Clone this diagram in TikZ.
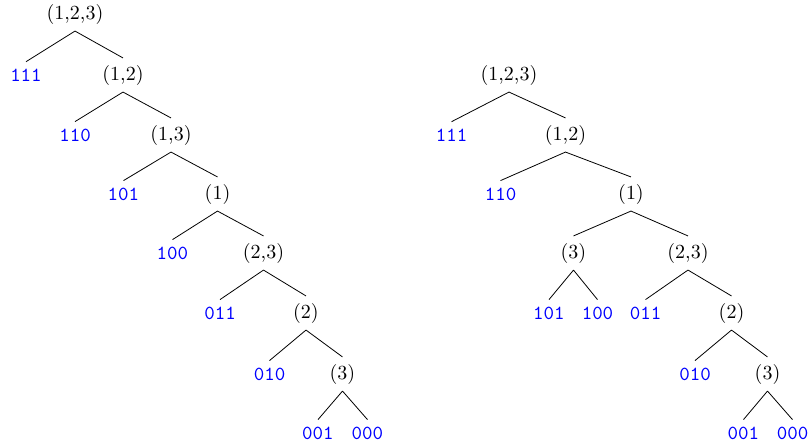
\documentclass[tikz,border=0pt]{standalone}
\usepackage{tikz}
\usepackage{xcolor}

\begin{document}
\begin{tikzpicture}[x=0.5pt,y=-0.5pt,leaf/.style={text=blue,font=\ttfamily}]
\useasboundingbox (0,0) rectangle (811,445);
% left tree
\node (L0) at (75,14) {(1,2,3)};
\node[leaf] (L111) at (26,75) {111};
\node (L12) at (123,75) {(1,2)};
\node[leaf] (L110) at (75,135) {110};
\node (L13) at (171,135) {(1,3)};
\node[leaf] (L101) at (123.5,194) {101};
\node (L1) at (217.5,194) {(1)};
\node[leaf] (L100) at (172.5,253) {100};
\node (L23) at (263.5,253) {(2,3)};
\node[leaf] (L011) at (220,313) {011};
\node (L2) at (306,313) {(2)};
\node[leaf] (L010) at (269.5,374) {010};
\node (L3) at (342.5,374) {(3)};
\node[leaf] (L001) at (318,433) {001};
\node[leaf] (L000) at (367.5,433) {000};
\draw (L0.south) -- (L111.north) (L0.south) -- (L12.north);
\draw (L12.south) -- (L110.north) (L12.south) -- (L13.north);
\draw (L13.south) -- (L101.north) (L13.south) -- (L1.north);
\draw (L1.south) -- (L100.north) (L1.south) -- (L23.north);
\draw (L23.south) -- (L011.north) (L23.south) -- (L2.north);
\draw (L2.south) -- (L010.north) (L2.south) -- (L3.north);
\draw (L3.south) -- (L001.north) (L3.south) -- (L000.north);
% right tree
\node (R0) at (509,75) {(1,2,3)};
\node[leaf] (R111) at (451.5,135) {111};
\node (R12) at (565.5,135) {(1,2)};
\node[leaf] (R110) at (500.5,194) {110};
\node (R1) at (631,194) {(1)};
\node (R3a) at (573.5,253) {(3)};
\node (R23) at (688,253) {(2,3)};
\node[leaf] (R101) at (549,313) {101};
\node[leaf] (R100) at (597.5,313) {100};
\node[leaf] (R011) at (645.5,313) {011};
\node (R2) at (731.5,313) {(2)};
\node[leaf] (R010) at (695,374) {010};
\node (R3) at (767.5,374) {(3)};
\node[leaf] (R001) at (743.5,433) {001};
\node[leaf] (R000) at (792.5,433) {000};
\draw (R0.south) -- (R111.north) (R0.south) -- (R12.north);
\draw (R12.south) -- (R110.north) (R12.south) -- (R1.north);
\draw (R1.south) -- (R3a.north) (R1.south) -- (R23.north);
\draw (R3a.south) -- (R101.north) (R3a.south) -- (R100.north);
\draw (R23.south) -- (R011.north) (R23.south) -- (R2.north);
\draw (R2.south) -- (R010.north) (R2.south) -- (R3.north);
\draw (R3.south) -- (R001.north) (R3.south) -- (R000.north);
\end{tikzpicture}
\end{document}
